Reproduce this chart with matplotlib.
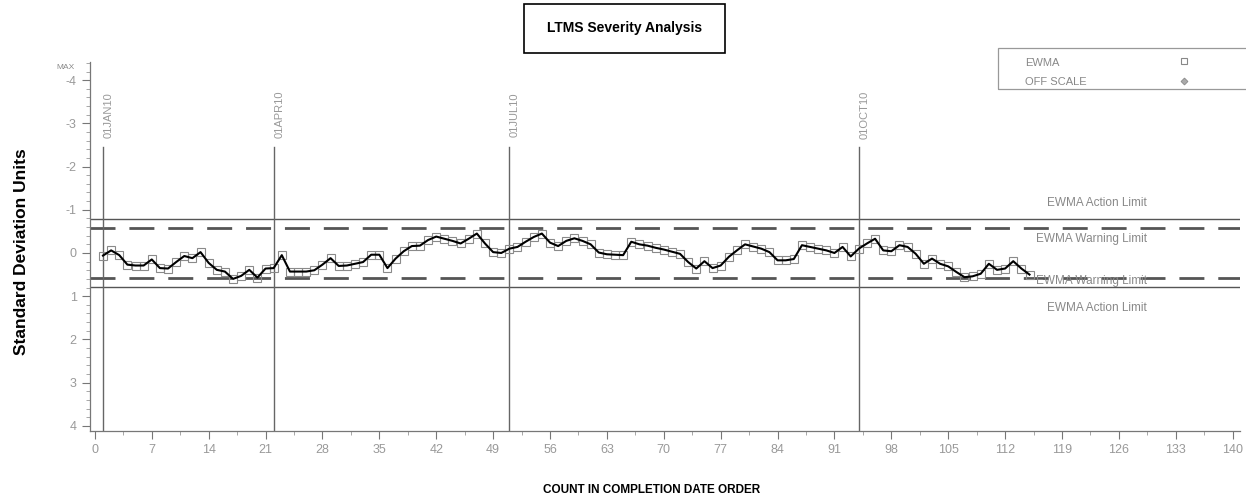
import matplotlib

matplotlib.use("Agg")

import matplotlib.pyplot as plt
import numpy as np
from matplotlib.lines import Line2D
from matplotlib.patches import Rectangle
from matplotlib.ticker import FixedLocator, MultipleLocator

NARROW = ["Liberation Sans Narrow", "Liberation Sans", "DejaVu Sans"]

# EWMA severity, one value per test in completion order (starting at count 1)
ewma = [
    0.06, -0.06, 0.05, 0.27, 0.29, 0.29, 0.15, 0.35, 0.36, 0.21,
    0.07, 0.12, -0.02, 0.23, 0.39, 0.43, 0.60, 0.53, 0.39, 0.57,
    0.36, 0.35, 0.05, 0.43, 0.43, 0.43, 0.40, 0.27, 0.12, 0.30,
    0.29, 0.25, 0.21, 0.04, 0.04, 0.35, 0.13, -0.04, -0.16, -0.17,
    -0.30, -0.38, -0.33, -0.28, -0.22, -0.33, -0.45, -0.22, -0.02, 0.00,
    -0.10, -0.14, -0.26, -0.37, -0.45, -0.24, -0.16, -0.28, -0.34, -0.28,
    -0.20, -0.01, 0.03, 0.04, 0.05, -0.26, -0.20, -0.17, -0.12, -0.08,
    -0.03, 0.02, 0.21, 0.36, 0.19, 0.35, 0.29, 0.09, -0.06, -0.20,
    -0.15, -0.10, -0.02, 0.17, 0.17, 0.14, -0.18, -0.14, -0.10, -0.06,
    0.00, -0.14, 0.08, -0.10, -0.22, -0.33, -0.06, -0.04, -0.18, -0.14,
    0.02, 0.25, 0.13, 0.25, 0.31, 0.44, 0.56, 0.54, 0.48, 0.25,
    0.39, 0.36, 0.19, 0.36, 0.50,
]
counts = np.arange(1, len(ewma) + 1)

# quarter boundaries as reference lines
date_labels = ["01JAN10", "01APR10", "01JUL10", "01OCT10"]
date_counts = [1, 22, 51, 94]

action_limit = 0.78
warning_limit = 0.57

x_ticks = list(range(0, 141, 7))
y_ticks = [-4, -3, -2, -1, 0, 1, 2, 3, 4]

fig = plt.figure(figsize=(12.46, 4.97), dpi=100)
ax = fig.add_axes([90 / 1246, 66 / 497, 1150 / 1246, 369 / 497])
ax.set_xlim(-0.6, 140.9)
ax.set_ylim(4.12, -4.42)

for sp in ("top", "right"):
    ax.spines[sp].set_visible(False)
for sp in ("left", "bottom"):
    ax.spines[sp].set_color("#777777")
    ax.spines[sp].set_linewidth(0.9)

# limit lines
for lim in (-action_limit, action_limit):
    ax.axhline(lim, color="#555555", lw=1.0, zorder=1)
for lim in (-warning_limit, warning_limit):
    ax.axhline(lim, color="#555555", lw=2.0, dashes=(9, 5), zorder=1)

lim_kw = dict(ha="right", va="center", color="#888888", fontsize=8.5, family=NARROW)
ax.text(129.4, -1.16, "EWMA Action Limit", **lim_kw)
ax.text(129.4, -0.32, "EWMA Warning Limit", **lim_kw)
ax.text(129.4, 0.65, "EWMA Warning Limit", **lim_kw)
ax.text(129.4, 1.27, "EWMA Action Limit", **lim_kw)

# date reference lines with rotated labels above them
for lab, c in zip(date_labels, date_counts):
    ax.plot([c, c], [-2.45, 4.12], color="#666666", lw=1.0, zorder=1)
    ax.text(c + 0.7, -3.2, lab, rotation=90, ha="center", va="center",
            color="#999999", fontsize=8, family=NARROW)

# EWMA series
ax.plot(counts, ewma, color="black", lw=1.5, zorder=3)
ax.plot(counts, ewma, ls="none", marker="s", ms=6, mfc="none",
        mec="#8a8a8a", mew=0.8, zorder=2)

ax.xaxis.set_major_locator(FixedLocator(x_ticks))
ax.xaxis.set_minor_locator(MultipleLocator(3.5))
ax.yaxis.set_major_locator(FixedLocator(y_ticks))
ax.yaxis.set_minor_locator(MultipleLocator(0.2))
ax.set_xticklabels([str(t) for t in x_ticks])
ax.set_yticklabels([str(t) for t in y_ticks])
ax.tick_params(which="major", length=6, color="#777777", labelcolor="#999999",
               labelsize=9)
ax.tick_params(which="minor", length=3, color="#999999")
for lbl in ax.get_xticklabels() + ax.get_yticklabels():
    lbl.set_family(NARROW)
ax.text(-3.6, -4.3, "MAX", ha="center", va="center", fontsize=6,
        color="#888888", family=NARROW)

ax.set_ylabel("Standard Deviation Units", fontsize=12.5, fontweight="bold",
              family=["Liberation Sans", "DejaVu Sans"])
ax.yaxis.set_label_coords(-0.053, 0.485)
fig.text(652 / 1246, 1 - 490 / 497, "COUNT IN COMPLETION DATE ORDER",
         ha="center", va="center", fontsize=8.5, fontweight="bold", family=NARROW)

# title box
fig.patches.append(Rectangle((524 / 1246, 1 - 53 / 497), 201 / 1246, 49 / 497,
                             transform=fig.transFigure, fill=False,
                             ec="black", lw=1.2))
fig.text(624.5 / 1246, 1 - 28 / 497, "LTMS Severity Analysis", ha="center",
         va="center", fontsize=10, fontweight="bold", family=NARROW)

# legend box
fig.patches.append(Rectangle((998 / 1246, 1 - 89 / 497), 260 / 1246, 41 / 497,
                             transform=fig.transFigure, fill=False,
                             ec="#999999", lw=0.9))
fig.text(1025 / 1246, 1 - 63 / 497, "EWMA", ha="left", va="center",
         fontsize=8, color="#888888", family=NARROW)
fig.text(1025 / 1246, 1 - 82 / 497, "OFF SCALE", ha="left", va="center",
         fontsize=8, color="#888888", family=NARROW)
fig.lines.append(Line2D([1184 / 1246], [1 - 61 / 497], transform=fig.transFigure,
                        marker="s", ms=5, mfc="none", mec="#888888", mew=0.8))
fig.lines.append(Line2D([1184 / 1246], [1 - 81 / 497], transform=fig.transFigure,
                        marker="D", ms=3.5, mfc="#aaaaaa", mec="#888888", mew=0.6))

fig.savefig("out.png", dpi=100)
